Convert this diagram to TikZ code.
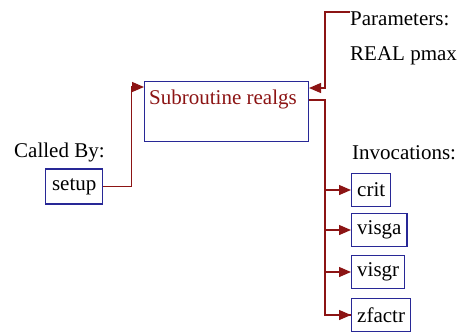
\documentclass[tikz,border=0pt]{standalone}
\usepackage{fontspec}
\setmainfont{Liberation Serif}
\usetikzlibrary{arrows.meta}
\definecolor{boxblue}{RGB}{40,40,150}
\definecolor{linered}{RGB}{140,20,20}
\tikzset{
  modbox/.style={draw=boxblue, line width=1.4pt, inner xsep=5.5pt, inner ysep=0pt, minimum height=33pt, anchor=west},
  callline/.style={draw=linered, line width=1.3pt, -{Triangle[length=12pt,width=10pt]}},
  caption/.style={anchor=west, inner sep=0pt},
}
\begin{document}
\begin{tikzpicture}[x=1pt,y=-1pt,font=\fontsize{21}{25}\selectfont]
  \useasboundingbox (0,0) rectangle (466,335);
  \node[draw=boxblue, line width=1.4pt, minimum width=164, minimum height=60, anchor=north west] (main) at (144,81) {};
  \node[caption, text=linered] (title) at (149,99) {Subroutine realgs};
  \node[caption] (calledby) at (14,152) {Called By:};
  \node[modbox, minimum width=57, minimum height=35] (setup) at (45,186.5) {setup};
  \node[caption] (params) at (350,19) {Parameters:};
  \node[caption] (pmax) at (350,56) {REAL pmax};
  \node[caption] (invoc) at (352,153) {Invocations:};
  \node[modbox] (crit) at (351,190) {crit};
  \node[modbox] (visga) at (351,230) {visga};
  \node[modbox] (visgr) at (351,272) {visgr};
  \node[modbox] (zfactr) at (351,315) {zfactr};
  \coordinate (callin) at (144,87);
  \coordinate (parout) at (350,12);
  \coordinate (parin) at (309,88);
  \coordinate (invout) at (309,100);
  \coordinate (trunk) at (325,100);
  % caller
  \draw[callline] (setup.east) -- ++(28,0) |- (callin);
  % parameters
  \draw[callline] (parout) -| (325,50) |- (parin);
  % invocations
  \draw[draw=linered, line width=1.3pt] (invout) -- (trunk) |- (zfactr.west);
  \foreach \n in {crit,visga,visgr,zfactr}
    \draw[callline] (trunk |- \n.west) -- (\n.west);
\end{tikzpicture}
\end{document}
